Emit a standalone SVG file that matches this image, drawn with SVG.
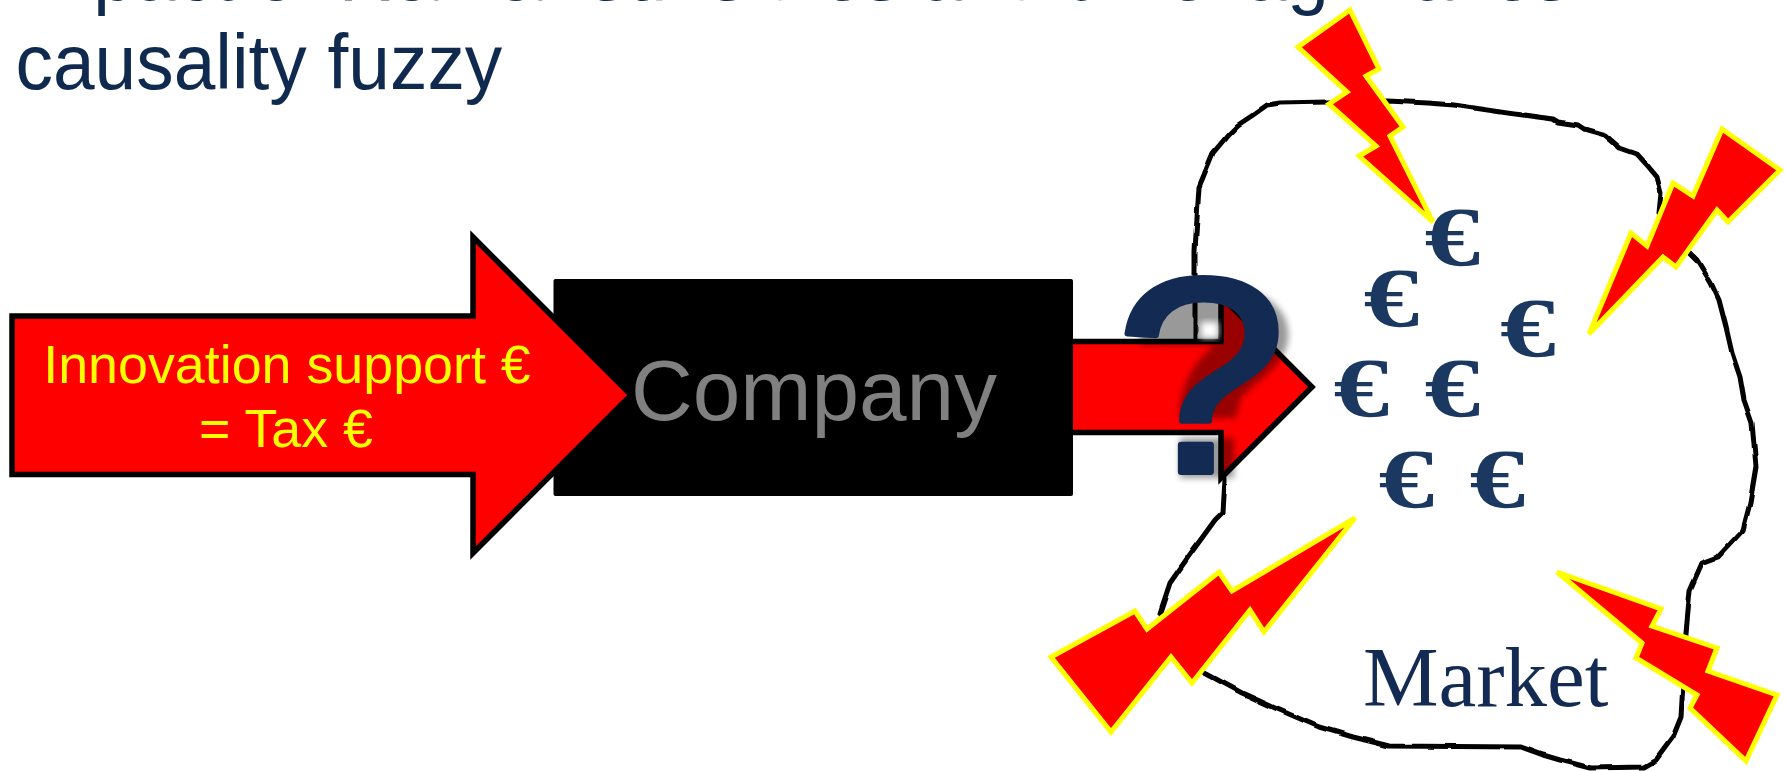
<svg xmlns="http://www.w3.org/2000/svg" width="1785" height="771" viewBox="0 0 1785 771">
<style>
.title{font-family:"Liberation Sans",Arial,sans-serif;font-size:78px;fill:#10294f}
.arrow{fill:#f00;stroke:#000;stroke-width:5.5;stroke-miterlimit:10}
.bolt{fill:#f00;stroke:#ff0;stroke-width:5;stroke-linejoin:miter;stroke-miterlimit:4}
.euro{font-family:"Liberation Serif","Times New Roman",serif;font-weight:700;font-size:84px;fill:#1a3860;text-anchor:middle}
.lab{font-family:"Liberation Sans",Arial,sans-serif;font-size:53.800px;fill:#ff0;text-anchor:middle}
</style>
<defs>
<filter id="soft" x="-20%" y="-20%" width="140%" height="140%"><feGaussianBlur stdDeviation="3"/></filter>
<filter id="wobble" filterUnits="userSpaceOnUse" x="1100" y="60" width="685" height="711"><feTurbulence type="fractalNoise" baseFrequency=".05" numOctaves="1" seed="4"/><feDisplacementMap in="SourceGraphic" scale="4" xChannelSelector="R" yChannelSelector="G"/></filter>
</defs>
<g id="title">
<text class="title" transform="translate(10,0) scale(.96,1)">Impact of R&amp;D&amp;I subsidies and time lag makes</text>
<text class="title" transform="translate(15.500,89) scale(.96,1)">causality fuzzy</text>
</g>
<g id="market">
<path fill="none" stroke="#000" stroke-width="5" stroke-linejoin="round" filter="url(#wobble)" d="M1195 340 L1195 273 L1195 250 L1199 187 L1213 153 L1228 135 L1238 125 L1253 115 L1267 105 L1280 103 L1327 102 L1388 101 L1427 103 L1454 105 L1508 113 L1553 119 L1558 122 L1578 125 L1584 129 L1605 135 L1620 148 L1637 154 L1647 165 L1657 177 L1661 193 L1659 213 L1690 253 L1697 260 L1711 283 L1719 300 L1726 327 L1732 353 L1740 377 L1744 400 L1752 423 L1756 467 L1750 503 L1743 530 L1718 557 L1702 563 L1690 590 L1686 633 L1681 717 L1673 737 L1656 760 L1644 767 L1591 768 L1560 760 L1543 755 L1521 747 L1389 746 L1353 737 L1319 727 L1275 708 L1242 693 L1203 672 L1180 655 L1160 613 L1170 583 L1191 553 L1215 520 L1223 512 L1225 480 L1222 440"/>
<text x="1363" y="706" font-family="'Liberation Serif','Times New Roman',serif" font-size="85" fill="#132a52">Market</text>
</g>
<g id="euros">
<text class="euro" transform="translate(1452.500,266) scale(1.33,1)">€</text>
<text class="euro" transform="translate(1391.500,327) scale(1.33,1)">€</text>
<text class="euro" transform="translate(1528,357) scale(1.33,1)">€</text>
<text class="euro" transform="translate(1361.500,417) scale(1.33,1)">€</text>
<text class="euro" transform="translate(1452.500,417) scale(1.33,1)">€</text>
<text class="euro" transform="translate(1406.500,508) scale(1.33,1)">€</text>
<text class="euro" transform="translate(1497.500,508) scale(1.33,1)">€</text>
</g>
<g id="connectors">
<polygon id="output-arrow" class="arrow" points="1068,341.5 1221,341.5 1221,296 1312,387 1221,478 1221,432.5 1068,432.5"/>
</g>
<g id="company">
<rect x="553.5" y="279" width="519.5" height="217" rx="2" fill="#000"/>
<text x="631" y="420" font-family="'Liberation Sans',Arial,sans-serif" font-size="85.500" fill="#808080">Company</text>
</g>
<g id="input-arrow">
<polygon class="arrow" points="12,316 473,316 473,237 631,395 473,553 473,474.500 12,474.500"/>
<text class="lab" x="287" y="382.500">Innovation support €</text>
<text class="lab" x="286" y="446.500">= Tax €</text>
</g>
<g id="bolts">
<polygon class="bolt" points="1350,10 1379,69 1366,76 1403,127 1390,136 1433,222 1359,156 1376,146 1329,104 1347,92 1298,47"/>
<polygon class="bolt" points="1722,129 1780,170 1728,222 1717,210 1676,267 1663,257 1589,334 1631,233 1647,246 1673,183 1693,196"/>
<polygon class="bolt" points="1355,518 1264,632 1250,610 1192,683 1171,657 1111,732 1051,657 1135,611 1147,629 1219,572 1232,591"/>
<polygon class="bolt" points="1557,572 1661,609 1652,626 1717,648 1708,671 1777,695 1746,761 1690,708 1697,695 1636,658 1642,643"/>
</g>
<g id="question">
<path d="M1140 322C1155 296 1185 285 1212 285C1262 285 1292 308 1288 340C1285 368 1250 385 1240 400L1236 418L1180 418C1178 392 1190 365 1215 345L1140 345Z" fill="#000" fill-opacity=".4" filter="url(#soft)"/>
<rect x="1180" y="438" width="54" height="40" fill="#000" fill-opacity=".4" filter="url(#soft)"/>
<rect x="1201" y="322" width="17" height="16" fill="#fff" filter="url(#soft)"/>
<text transform="translate(1201,472) scale(1.11,1)" text-anchor="middle" font-family="'Liberation Sans',Arial,sans-serif" font-size="278" fill="#132b52" stroke="#132b52" stroke-width="6" stroke-linejoin="round">?</text>
</g>
</svg>
